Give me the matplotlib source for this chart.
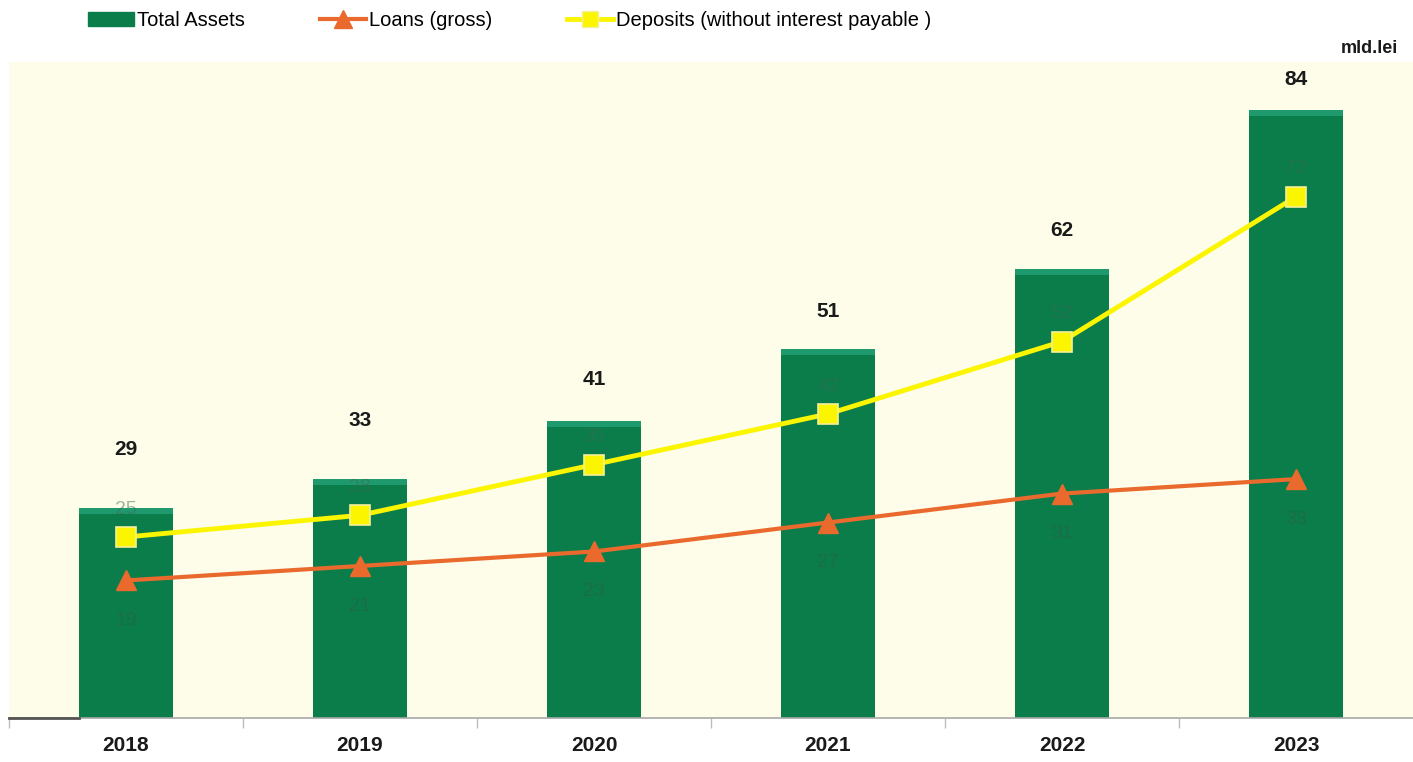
import matplotlib.pyplot as plt
from matplotlib.patches import Rectangle
from matplotlib.lines import Line2D

years = ["2018", "2019", "2020", "2021", "2022", "2023"]
total_assets = [29, 33, 41, 51, 62, 84]
loans = [19, 21, 23, 27, 31, 33]
deposits = [25, 28, 35, 42, 52, 72]

# vertical offsets (points) for the total labels so they clear the deposit labels
total_offsets = [42, 42, 30, 27, 28, 22]

GREEN = "#0a7d4b"
GREEN_TOP = "#1f9a6e"
ORANGE = "#ea6a2e"
YELLOW = "#fcf500"
CREAM = "#fdfdea"
FONT = ["Liberation Sans", "DejaVu Sans"]

plt.rcParams["font.family"] = FONT

fig = plt.figure(figsize=(14.13, 7.62), dpi=100, facecolor="white")
ax = fig.add_axes([0.0064, 0.0577, 0.9936, 0.8609])
ax.set_facecolor(CREAM)

x = list(range(len(years)))
bar_w = 0.405
ax.bar(x, total_assets, width=bar_w, color=GREEN, zorder=2)
# lighter rim on top of every bar
for xi, v in zip(x, total_assets):
    ax.add_patch(Rectangle((xi - bar_w / 2, v - 0.8), bar_w, 0.8,
                           color=GREEN_TOP, zorder=2.1, lw=0))

ax.plot(x, loans, color=ORANGE, lw=3, marker="^", ms=15,
        markerfacecolor=ORANGE, markeredgecolor=ORANGE, zorder=3)
ax.plot(x, deposits, color=YELLOW, lw=3.5, marker="s", ms=14,
        markerfacecolor=YELLOW, markeredgecolor="#f4ef9a", markeredgewidth=1.2,
        zorder=4)

for xi, v, off in zip(x, total_assets, total_offsets):
    ax.annotate(str(v), (xi, v), xytext=(0, off), textcoords="offset points",
                ha="center", va="center", fontsize=15, fontweight="bold",
                color="#1a1a1a")
for xi, v in zip(x, deposits):
    ax.annotate(str(v), (xi, v), xytext=(0, 20), textcoords="offset points",
                ha="center", va="center", fontsize=14, color="#3d6b55", alpha=0.5)
for xi, v in zip(x, loans):
    ax.annotate(str(v), (xi, v), xytext=(0, -29), textcoords="offset points",
                ha="center", va="center", fontsize=14, color="#2f5d48", alpha=0.5)

ax.set_xlim(-0.5, 5.5)
ax.set_ylim(0, 90.6)
for side in ["top", "right", "left"]:
    ax.spines[side].set_visible(False)
ax.spines["bottom"].set_color("#a8a8a8")
ax.spines["bottom"].set_linewidth(1.2)
# short dark stub of the axis line left of the first bar
ax.plot([-0.5, x[0] - bar_w / 2], [0, 0], color="#555555", lw=2,
        clip_on=False, zorder=5)
ax.set_yticks([])
ax.set_xticks(x)
ax.set_xticklabels(years, fontsize=15, fontweight="bold", color="#1a1a1a")
ax.tick_params(axis="x", length=0, pad=13)
ax.set_xticks([i + 0.5 for i in range(-1, 5)], minor=True)
ax.tick_params(axis="x", which="minor", length=7, color="#bdbdbd", width=1)

fig.text(0.9894, 0.937, "mld.lei", ha="right", va="center", fontsize=13,
         fontweight="bold", color="#1a1a1a")

handles = [
    Rectangle((0, 0), 1, 1, color=GREEN),
    Line2D([], [], color=ORANGE, lw=3, marker="^", ms=13),
    Line2D([], [], color=YELLOW, lw=3.5, marker="s", ms=11,
           markeredgecolor="#f4ef9a"),
]
labels = ["Total Assets", "Loans (gross)", "Deposits (without interest payable )"]
fig.legend(handles, labels, loc="center left", bbox_to_anchor=(0.0495, 0.973),
           ncol=3, frameon=False, fontsize=14.5, handlelength=2.3,
           handletextpad=0.15, columnspacing=3.7)

fig.savefig("out.png", dpi=100, facecolor="white")
